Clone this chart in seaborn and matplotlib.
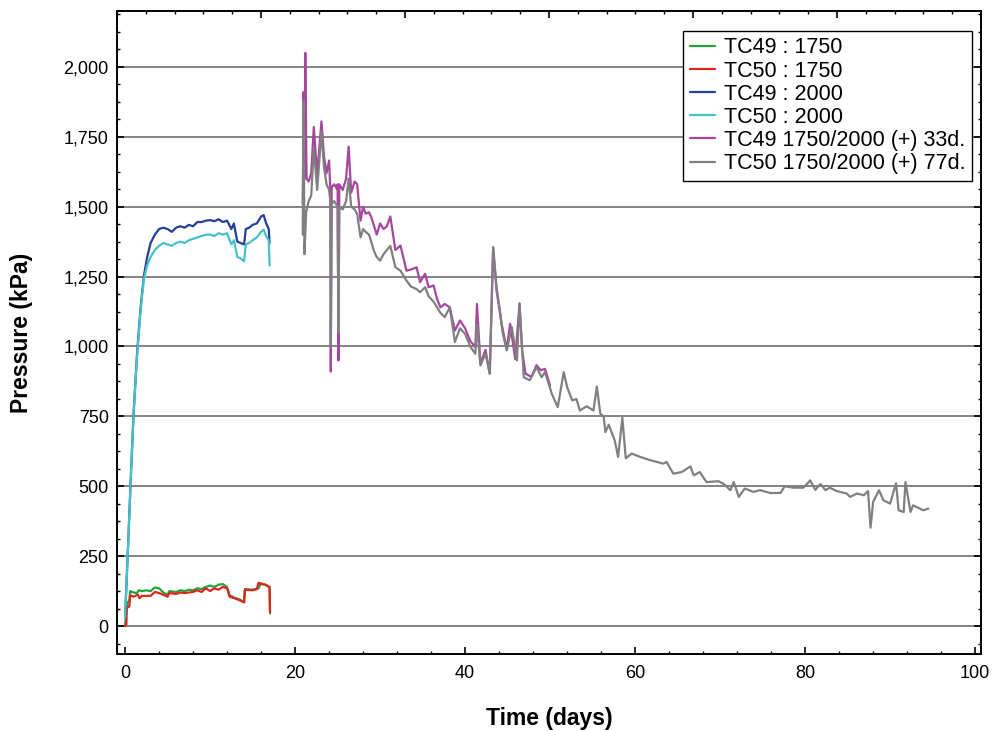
import matplotlib
matplotlib.use("Agg")
import matplotlib.pyplot as plt
from matplotlib.ticker import MultipleLocator, FuncFormatter
import seaborn as sns
import pandas as pd

# ---------------- data ----------------
tc49_1750_t = [0.0, 0.1, 0.3, 0.5, 0.6, 1.0, 1.4, 1.6, 2.0, 2.5, 3.0, 3.5, 4.0, 4.5, 5.0, 5.2, 6.0, 6.5,
               7.0, 7.5, 8.0, 8.5, 9.0, 9.5, 10.0, 10.5, 11.0, 11.5, 12.0, 12.3, 13.0, 13.5, 14.0, 14.1,
               15.0, 15.7, 15.9, 16.5, 17.0, 17.05]
tc49_1750_p = [0, 40, 85, 90, 125, 120, 118, 128, 125, 128, 125, 138, 135, 120, 112, 125, 122, 128,
               125, 130, 128, 135, 132, 140, 145, 140, 148, 150, 140, 110, 100, 95, 85, 132,
               130, 135, 150, 148, 140, 45]

tc50_1750_t = [0.0, 0.15, 0.2, 0.5, 0.6, 1.0, 1.5, 1.7, 2.0, 3.0, 3.5, 4.0, 4.5, 5.0, 5.2, 6.0, 6.5, 7.0,
               8.0, 8.5, 9.0, 9.5, 10.0, 10.5, 11.0, 11.5, 12.0, 12.3, 13.0, 13.5, 14.0, 14.1, 15.0,
               15.5, 15.7, 16.5, 17.0, 17.05]
tc50_1750_p = [0, 5, 65, 70, 110, 105, 112, 100, 108, 108, 122, 118, 112, 105, 118, 115, 120, 118,
               122, 128, 122, 135, 125, 135, 130, 140, 135, 105, 98, 92, 85, 130, 128,
               132, 155, 148, 138, 50]

tc49_2000_t = [0.0, 0.3, 0.7, 1.0, 1.4, 1.8, 2.2, 2.6, 3.0, 3.5, 4.0, 4.5, 5.0, 5.5, 6.0, 6.5, 7.0, 7.5,
               8.0, 8.5, 9.0, 9.5, 10.0, 10.5, 11.0, 11.5, 12.0, 12.5, 12.8, 13.2, 13.6, 14.0, 14.2,
               14.6, 15.0, 15.5, 16.0, 16.3, 16.6, 16.9, 17.0]
tc49_2000_p = [30, 250, 550, 760, 970, 1130, 1250, 1320, 1370, 1400, 1420, 1425, 1420, 1410, 1425, 1430,
               1425, 1435, 1430, 1445, 1445, 1450, 1452, 1448, 1455, 1445, 1450, 1420, 1440, 1375, 1370,
               1365, 1420, 1425, 1435, 1440, 1465, 1470, 1440, 1420, 1370]

tc50_2000_t = [0.0, 0.3, 0.7, 1.0, 1.4, 1.8, 2.2, 2.6, 3.0, 3.5, 4.0, 4.5, 5.0, 5.5, 6.0, 6.5, 7.0, 7.5,
               8.0, 8.5, 9.0, 9.5, 10.0, 10.5, 11.0, 11.5, 12.0, 12.5, 12.8, 13.2, 13.6, 14.0, 14.2,
               14.6, 15.0, 15.5, 16.0, 16.3, 16.6, 16.9, 17.0]
tc50_2000_p = [30, 250, 550, 760, 960, 1120, 1240, 1290, 1320, 1345, 1360, 1370, 1365, 1360, 1370, 1375,
               1370, 1380, 1385, 1390, 1395, 1400, 1400, 1395, 1405, 1400, 1405, 1365, 1380, 1320, 1315,
               1305, 1365, 1370, 1380, 1390, 1410, 1418, 1395, 1380, 1290]

tc49_mix_t = [20.9, 21.0, 21.1, 21.2, 21.35, 21.6, 21.9, 22.2, 22.6, 23.1, 23.4, 23.7, 24.0, 24.15, 24.2,
              24.3, 24.6, 24.9, 25.0, 25.1, 25.2, 25.6, 26.0, 26.3, 26.6, 27.0, 27.3, 27.7, 28.0, 28.3,
              28.7, 29.0, 29.3, 29.6, 30.0, 30.4, 30.8, 31.2, 31.8, 32.4, 33.1, 33.6, 34.3, 34.7, 35.3,
              35.7, 36.3, 36.7, 37.1, 37.6, 38.2, 38.8, 39.4, 40.0, 40.6, 41.2, 41.4, 41.8, 42.4, 42.9,
              43.3, 43.7, 44.3, 44.9, 45.3, 45.9, 46.4, 46.7, 47.1, 47.8, 48.4, 48.9, 49.4, 50.0]
tc49_mix_p = [1510, 1910, 1600, 2050, 1600, 1590, 1620, 1785, 1615, 1805, 1680, 1620, 1665, 1560, 910,
              1570, 1580, 1565, 1580, 950, 1580, 1560, 1600, 1715, 1550, 1590, 1580, 1450, 1500, 1475,
              1480, 1460, 1430, 1400, 1440, 1420, 1430, 1465, 1345, 1361, 1271, 1275, 1283, 1230, 1260,
              1212, 1218, 1170, 1140, 1152, 1140, 1057, 1093, 1065, 1020, 998, 1152, 939, 988, 903,
              1355, 1200, 1080, 990, 1081, 955, 1152, 988, 903, 891, 933, 915, 920, 860]

tc50_mix_t = [20.9, 21.0, 21.1, 21.3, 21.6, 21.9, 22.2, 22.6, 23.1, 23.4, 23.7, 24.0, 24.15, 24.2, 24.3,
              24.6, 25.0, 25.1, 25.2, 25.6, 26.0, 26.3, 26.6, 27.0, 27.3, 27.7, 28.0, 28.3, 28.7, 29.0,
              29.3, 29.6, 30.0, 30.4, 30.8, 31.2, 31.8, 32.4, 33.1, 33.6, 34.3, 34.7, 35.3, 35.7, 36.3,
              36.7, 37.1, 37.6, 38.2, 38.8, 39.4, 40.0, 40.6, 41.2, 41.4, 41.8, 42.4, 42.9, 43.3, 43.7,
              44.1, 44.4, 44.9, 45.5, 46.1, 46.4, 46.9, 47.6, 48.4, 49.0, 49.4, 50.2, 50.9, 51.6, 52.0,
              52.6, 53.1, 53.5, 54.3, 55.1, 55.5, 55.9, 56.3, 56.5, 56.9, 57.6, 58.0, 58.5, 58.9, 59.6,
              60.6, 61.8, 63.3, 63.7, 64.5, 65.5, 66.5, 66.9, 67.6, 68.4, 69.8, 70.4, 71.2, 71.6, 72.2,
              72.9, 73.9, 74.7, 75.9, 77.1, 77.6, 78.6, 79.8, 80.6, 81.2, 81.8, 82.4, 82.9, 83.7, 84.9,
              85.3, 86.1, 86.9, 87.4, 87.7, 88.0, 88.7, 89.2, 90.0, 90.7, 91.0, 91.6, 91.8, 92.4, 92.7,
              93.5, 93.9, 94.5]
tc50_mix_p = [1400, 1880, 1330, 1480, 1520, 1540, 1710, 1560, 1770, 1640, 1580, 1560, 1520, 1000, 1510,
              1520, 1500, 1050, 1500, 1490, 1520, 1600, 1500, 1490, 1474, 1390, 1420, 1410, 1400, 1370,
              1340, 1320, 1307, 1330, 1345, 1360, 1283, 1271, 1236, 1215, 1205, 1194, 1212, 1180, 1160,
              1140, 1120, 1105, 1140, 1016, 1065, 1045, 1000, 974, 1080, 932, 974, 903, 1355, 1212,
              1128, 1050, 986, 1069, 950, 1155, 890, 879, 926, 890, 908, 831, 783, 908, 855,
              807, 812, 771, 786, 771, 857, 760, 750, 694, 720, 664, 605, 745, 600, 617,
              605, 593, 581, 587, 545, 551, 571, 539, 551, 515, 518, 509, 486, 515, 462,
              492, 480, 486, 476, 476, 500, 495, 495, 521, 487, 508, 486, 495, 483, 474,
              462, 474, 468, 483, 352, 444, 486, 450, 438, 511, 414, 408, 515, 408, 432,
              420, 414, 420]

series_names = ["TC49 : 1750", "TC50 : 1750", "TC49 : 2000", "TC50 : 2000",
                "TC49 1750/2000 (+) 33d.", "TC50 1750/2000 (+) 77d."]
series_t = [tc49_1750_t, tc50_1750_t, tc49_2000_t, tc50_2000_t, tc49_mix_t, tc50_mix_t]
series_p = [tc49_1750_p, tc50_1750_p, tc49_2000_p, tc50_2000_p, tc49_mix_p, tc50_mix_p]
colors = ["#1fa33a", "#e0251f", "#23409a", "#45c1c9", "#a6469f", "#808080"]

x_ticks = [0, 20, 40, 60, 80, 100]
y_ticks = [0, 250, 500, 750, 1000, 1250, 1500, 1750, 2000]

# ---------------- plot ----------------
sns.set_style("white")
plt.rcParams["font.family"] = ["Liberation Sans", "DejaVu Sans"]
plt.rcParams["text.color"] = "black"
plt.rcParams["axes.labelcolor"] = "black"
plt.rcParams["xtick.color"] = "black"
plt.rcParams["ytick.color"] = "black"

fig = plt.figure(figsize=(9.95, 7.31), dpi=100)
ax = fig.add_axes([0.1176, 0.1053, 0.8684, 0.8797])

for name, t, p, c in zip(series_names, series_t, series_p, colors):
    df = pd.DataFrame({"t": t, "p": p})
    sns.lineplot(data=df, x="t", y="p", color=c, label=name, linewidth=1.6,
                 sort=False, estimator=None, ax=ax, zorder=3)

ax.set_xlim(-0.95, 100.7)
ax.set_ylim(-100, 2200)
ax.set_xticks(x_ticks)
ax.set_yticks(y_ticks)
ax.xaxis.set_minor_locator(MultipleLocator(4))
ax.yaxis.set_minor_locator(MultipleLocator(62.5))
ax.yaxis.set_major_formatter(FuncFormatter(lambda v, _: f"{int(v):,}"))
ax.grid(axis="y", which="major", color="#6e6e6e", linewidth=1.2, zorder=1)
ax.grid(axis="x", visible=False)

ax.tick_params(which="both", direction="in", colors="black", labelcolor="black", labelsize=13,
               left=True, bottom=True, right=True, top=False, labelright=False)
ax.tick_params(which="major", length=5, width=1.2)
ax.tick_params(which="minor", length=2.5, width=1.0)
ax.tick_params(axis="x", pad=8)
ax.tick_params(axis="y", pad=6)

for s in ax.spines.values():
    s.set_color("black")
    s.set_linewidth(1.4)

# unlabeled top scale
axt = ax.twiny()
axt.set_xlim(0, 30)
axt.xaxis.set_major_locator(MultipleLocator(5))
axt.xaxis.set_minor_locator(MultipleLocator(1))
axt.tick_params(which="both", direction="in", labeltop=False, top=True, bottom=False, colors="black")
axt.tick_params(which="major", length=5, width=1.2)
axt.tick_params(which="minor", length=2.5, width=1.0)
axt.grid(False)
for s in axt.spines.values():
    s.set_visible(False)

ax.set_xlabel("Time (days)", fontsize=16.5, fontweight="bold", labelpad=18, color="black")
ax.set_ylabel("Pressure (kPa)", fontsize=16.5, fontweight="bold", labelpad=22, color="black")

leg = ax.legend(loc="upper right", bbox_to_anchor=(0.9896, 0.9689), borderaxespad=0,
                fontsize=15.5, frameon=True, fancybox=False, edgecolor="black",
                framealpha=1, handlelength=1.2, handletextpad=0.4, labelspacing=0.1,
                borderpad=0.3)
leg.get_frame().set_linewidth(1.0)
for txt in leg.get_texts():
    txt.set_color("black")
leg.set_zorder(5)

fig.savefig("out.png", dpi=100)
